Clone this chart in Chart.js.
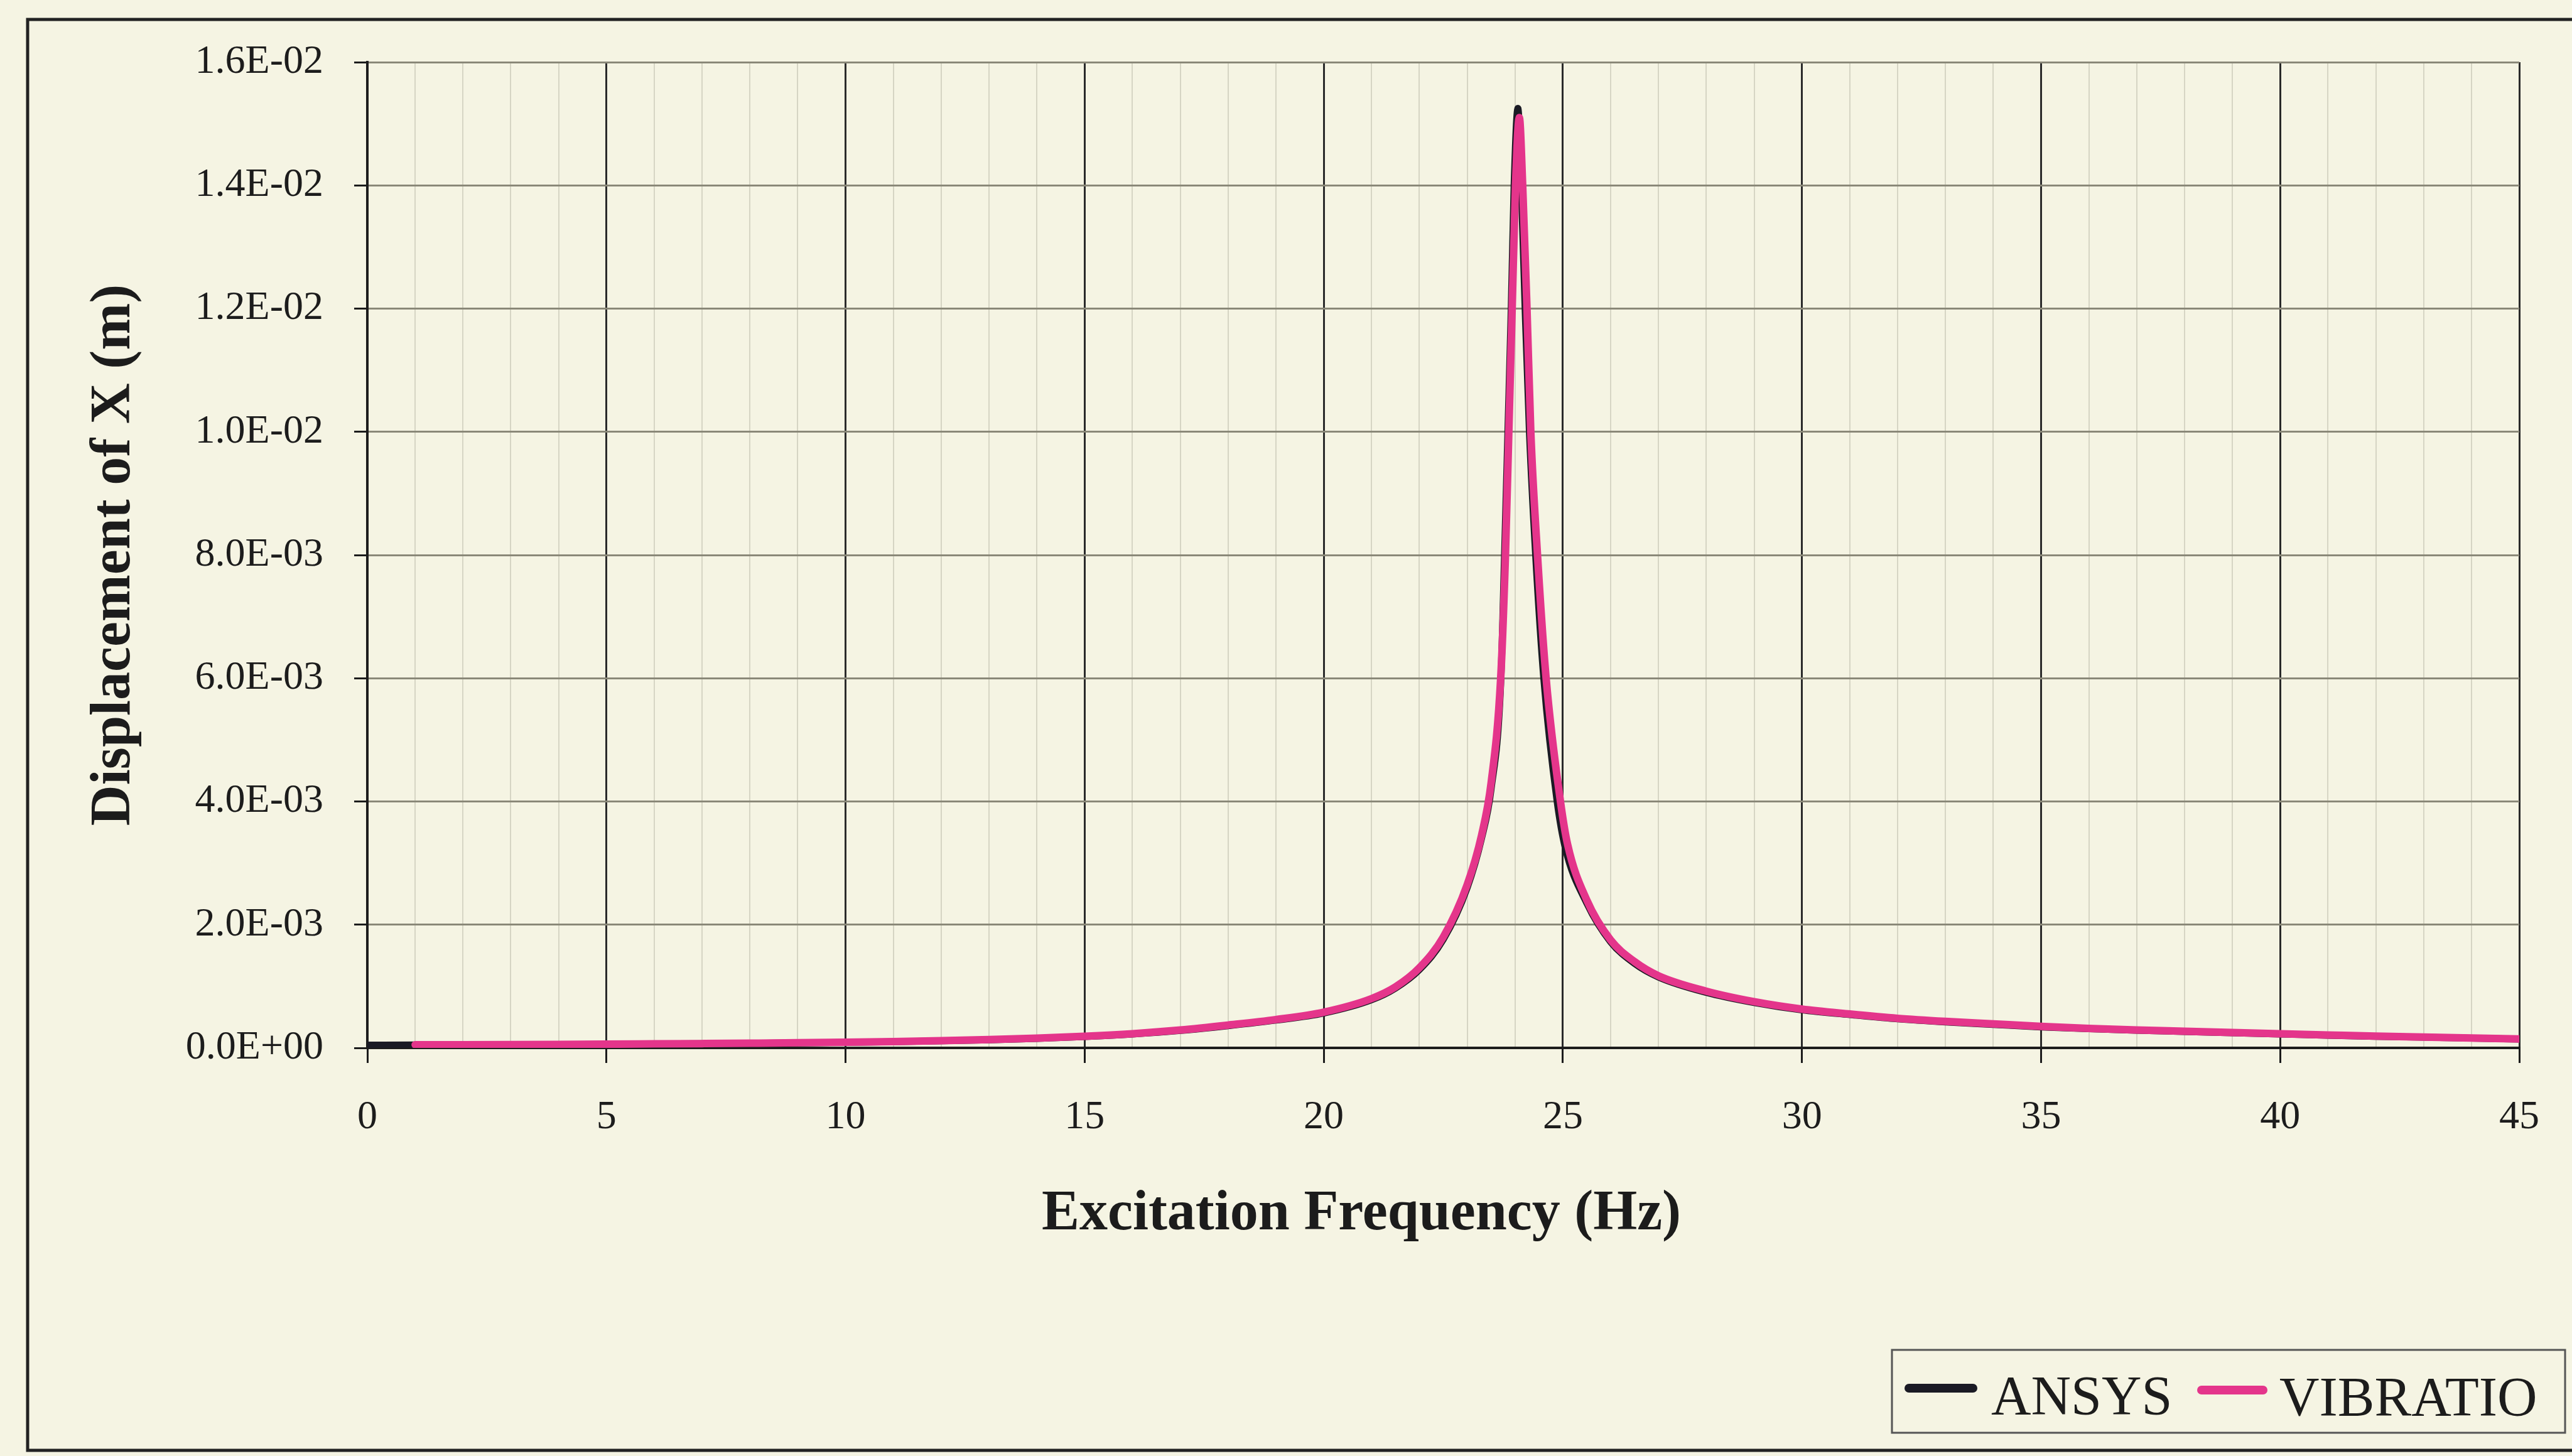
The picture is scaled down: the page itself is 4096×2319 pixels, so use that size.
<!DOCTYPE html>
<html>
<head>
<meta charset="utf-8">
<script src="https://cdn.jsdelivr.net/npm/chart.js@4"></script>
<style>
  html, body { margin: 0; padding: 0; background: #f5f4e3; overflow: hidden; }
  canvas { display: block; }
</style>
</head>
<body>
<canvas id="chart" width="4096" height="2319"></canvas>
<script>
// data
const seriesNames = ["ANSYS", "VIBRATIO"];

const ansysFreq = [0, 1, 2, 3, 4, 5, 6, 7, 8, 9, 10, 11, 12, 13, 14, 15, 16, 17, 18, 19, 20, 21, 21.5, 22, 22.5, 23, 23.3, 23.5, 23.7, 23.78, 23.85, 23.92, 23.98, 24.06, 24.13, 24.21, 24.3, 24.43, 24.6, 24.88, 25.05, 25.5, 26, 26.5, 27, 28, 29, 30, 31, 32, 33, 34, 35, 36, 37, 38, 39, 40, 41, 42, 43, 44, 45];
const ansysDisp = [4.5e-5, 4.8e-5, 4.9e-5, 5.1e-5, 5.4e-5, 5.8e-5, 6.3e-5, 6.8e-5, 7.4e-5, 8.1e-5, 8.9e-5, 1.0e-4, 1.14e-4, 1.31e-4, 1.53e-4, 1.83e-4, 2.24e-4, 2.82e-4, 3.6e-4, 4.5e-4, 5.65e-4, 7.8e-4, 9.7e-4, 1.27e-3, 1.76e-3, 2.6e-3, 3.4e-3, 4.2e-3, 5.9e-3, 8.0e-3, 1.0e-2, 1.2e-2, 1.4e-2, 1.525e-2, 1.4e-2, 1.2e-2, 1.0e-2, 8.0e-3, 6.0e-3, 4.0e-3, 3.25e-3, 2.35e-3, 1.72e-3, 1.37e-3, 1.15e-3, 9.0e-4, 7.35e-4, 6.15e-4, 5.4e-4, 4.7e-4, 4.2e-4, 3.8e-4, 3.4e-4, 3.1e-4, 2.85e-4, 2.65e-4, 2.45e-4, 2.25e-4, 2.05e-4, 1.87e-4, 1.72e-4, 1.57e-4, 1.42e-4];

const vibFreq = [1, 2, 3, 4, 5, 6, 7, 8, 9, 10, 11, 12, 13, 14, 15, 16, 17, 18, 19, 20, 21, 21.5, 22, 22.5, 23, 23.3, 23.5, 23.7, 23.8, 23.87, 23.94, 24.01, 24.09, 24.16, 24.25, 24.33, 24.47, 24.65, 24.95, 25.1, 25.5, 26, 26.5, 27, 28, 29, 30, 31, 32, 33, 34, 35, 36, 37, 38, 39, 40, 41, 42, 43, 44, 45];
const vibDisp = [5.0e-5, 5.1e-5, 5.3e-5, 5.6e-5, 6.0e-5, 6.5e-5, 7.0e-5, 7.6e-5, 8.3e-5, 9.2e-5, 1.03e-4, 1.17e-4, 1.35e-4, 1.58e-4, 1.88e-4, 2.3e-4, 2.9e-4, 3.7e-4, 4.6e-4, 5.8e-4, 8.0e-4, 9.9e-4, 1.3e-3, 1.8e-3, 2.65e-3, 3.45e-3, 4.3e-3, 6.0e-3, 8.0e-3, 1.0e-2, 1.2e-2, 1.4e-2, 1.51e-2, 1.4e-2, 1.2e-2, 1.0e-2, 8.0e-3, 6.0e-3, 4.0e-3, 3.3e-3, 2.4e-3, 1.75e-3, 1.4e-3, 1.17e-3, 9.2e-4, 7.5e-4, 6.3e-4, 5.5e-4, 4.8e-4, 4.3e-4, 3.9e-4, 3.5e-4, 3.15e-4, 2.9e-4, 2.7e-4, 2.5e-4, 2.3e-4, 2.1e-4, 1.9e-4, 1.75e-4, 1.6e-4, 1.45e-4];

const xTickLabels = ["0", "5", "10", "15", "20", "25", "30", "35", "40", "45"];
const yTickLabels = ["0.0E+00", "2.0E-03", "4.0E-03", "6.0E-03", "8.0E-03", "1.0E-02", "1.2E-02", "1.4E-02", "1.6E-02"];
const xTitle = "Excitation Frequency (Hz)";
const yTitle = "Displacement of X (m)";

const serif = "'Liberation Serif', 'Times New Roman', serif";
const ink = "#1c1c1c";
const pink = "#e4358b";
const ansysColor = "#1a1a24";

function toPoints(xs, ys) {
  return xs.map((x, i) => ({ x: x, y: ys[i] }));
}

function isMajor(c) {
  return c.tick && Math.round(c.tick.value) % 5 === 0;
}

// outer frame, x title and legend box
const framePlugin = {
  id: "frame",
  afterDraw(chart) {
    const ctx = chart.ctx;
    ctx.save();
    ctx.strokeStyle = "#222";
    ctx.lineWidth = 5;
    ctx.strokeRect(44, 31, 4100, 2279);

    ctx.fillStyle = ink;
    ctx.textAlign = "center";
    ctx.textBaseline = "middle";
    ctx.font = "bold 90px " + serif;
    ctx.fillText(xTitle, 2168, 1935);

    // legend
    ctx.strokeStyle = "#555";
    ctx.lineWidth = 3;
    ctx.strokeRect(3013, 2150, 1072, 132);
    ctx.lineCap = "round";
    ctx.lineWidth = 14;
    ctx.strokeStyle = ansysColor;
    ctx.beginPath(); ctx.moveTo(3040, 2211); ctx.lineTo(3142, 2211); ctx.stroke();
    ctx.strokeStyle = pink;
    ctx.beginPath(); ctx.moveTo(3506, 2214); ctx.lineTo(3604, 2214); ctx.stroke();
    ctx.font = "88px " + serif;
    ctx.textAlign = "left";
    ctx.textBaseline = "alphabetic";
    ctx.fillText(seriesNames[0], 3171, 2252);
    ctx.fillText(seriesNames[1], 3630, 2254);
    ctx.restore();
  },
};

new Chart(document.getElementById("chart"), {
  type: "line",
  data: {
    datasets: [
      {
        label: seriesNames[0],
        data: toPoints(ansysFreq, ansysDisp),
        borderColor: ansysColor,
        backgroundColor: ansysColor,
        borderWidth: 11,
        order: 2,
      },
      {
        label: seriesNames[1],
        data: toPoints(vibFreq, vibDisp),
        borderColor: pink,
        backgroundColor: pink,
        borderWidth: 12,
        order: 1,
      },
    ],
  },
  options: {
    responsive: false,
    devicePixelRatio: 1,
    animation: false,
    layout: { padding: { top: 99, right: 84, bottom: 0, left: 0 } },
    elements: {
      point: { radius: 0 },
      line: { cubicInterpolationMode: "monotone", borderJoinStyle: "round", borderCapStyle: "round" },
    },
    plugins: {
      legend: { display: false },
      tooltip: { enabled: false },
    },
    scales: {
      x: {
        type: "linear",
        min: 0,
        max: 45,
        afterFit(scale) { scale.height = 650; },
        ticks: {
          stepSize: 1,
          autoSkip: false,
          maxRotation: 0,
          minRotation: 0,
          padding: 49,
          color: ink,
          font: { family: serif, size: 64 },
          callback: (v) => (Math.round(v) % 5 === 0 ? xTickLabels[Math.round(v) / 5] : ""),
        },
        grid: {
          color: (c) => (isMajor(c) ? "#2a2a2a" : "#d6d5c4"),
          lineWidth: (c) => (isMajor(c) ? 3 : 2),
          tickLength: 24,
          tickColor: (c) => (isMajor(c) ? ink : "rgba(0,0,0,0)"),
          tickWidth: 3,
        },
        border: { color: ink, width: 4 },
      },
      y: {
        type: "linear",
        min: 0,
        max: 0.016,
        afterFit(scale) { scale.width = 585; },
        ticks: {
          stepSize: 0.002,
          padding: 49,
          color: ink,
          font: { family: serif, size: 64 },
          callback: (v) => yTickLabels[Math.round(v / 0.002)],
        },
        grid: {
          color: "#8a8878",
          lineWidth: 3,
          tickLength: 21,
          tickColor: ink,
          tickWidth: 3,
        },
        border: { color: ink, width: 4 },
        title: {
          display: true,
          text: yTitle,
          color: ink,
          font: { family: serif, size: 90, weight: "bold" },
          padding: { top: 129, bottom: 0 },
        },
      },
    },
  },
  plugins: [framePlugin],
});
</script>
</body>
</html>
